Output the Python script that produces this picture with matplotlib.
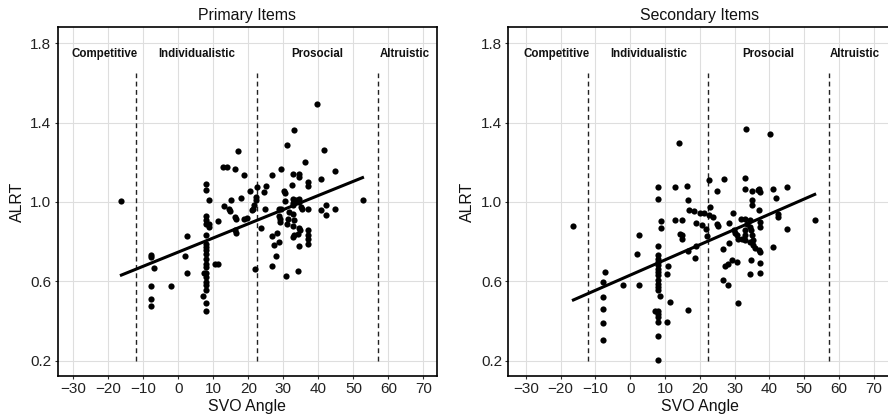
import matplotlib
matplotlib.use("Agg")
import matplotlib.pyplot as plt
import numpy as np

plt.rcParams['font.family'] = ['Liberation Sans', 'DejaVu Sans']

# SVO angle / ALRT pairs, primary items
primary_svo = [-16.3, -7.9, -7.9, -7.1, -7.9, -7.9, -7.9, -2.1, 2.5, 1.8, 2.5,
               7.8, 7.8, 8.6, 7.8, 7.8, 7.8, 8.8, 8.8, 7.8, 7.8, 7.8, 7.8, 7.8, 7.8, 7.8, 7.8,
               7.3, 8.0, 7.8, 7.8, 7.8, 7.8, 6.9, 7.8, 7.8,
               10.5, 11.3, 11.3, 12.9, 12.8, 13.9, 14.5, 14.7, 15.1, 16.2, 16.5, 16.2, 16.4, 17.1,
               16.1, 18.6, 17.9, 18.6, 19.7, 20.4, 21.3, 21.1, 21.6, 22.5, 22.3, 22.3, 21.9,
               39.7, 33.1, 30.9, 41.6, 36.1, 29.3, 44.8, 26.7, 32.6, 34.5, 34.5, 36.9, 37.1,
               40.7, 32.4, 25.0, 24.5, 30.2, 30.5, 32.6, 32.6, 33.5, 34.5, 34.5, 30.4, 52.6,
               24.8, 28.6, 29.3, 32.6, 34.9, 35.4, 37.1, 40.7, 42.3, 42.1, 44.8, 31.6, 32.6,
               31.4, 33.1, 28.6, 23.5, 26.7, 28.3, 27.3, 28.8, 27.8, 26.7, 30.7, 34.2,
               29.0, 29.0, 31.1, 32.6, 32.8, 33.1, 34.1, 34.5, 34.8, 34.5, 36.9, 36.9, 36.9, 36.9]
primary_alrt = [1.006, 0.735, 0.725, 0.669, 0.576, 0.512, 0.476, 0.579, 0.829, 0.728, 0.643,
                1.092, 1.062, 1.008, 0.927, 0.911, 0.891, 0.891, 0.874, 0.832, 0.790, 0.773, 0.756,
                0.739, 0.714, 0.689, 0.672, 0.642, 0.642, 0.621, 0.596, 0.580, 0.558, 0.528, 0.492, 0.449,
                0.685, 0.685, 0.904, 0.980, 1.174, 1.174, 0.966, 0.954, 1.012, 0.924, 0.914, 0.857, 0.843,
                1.257, 1.164, 1.136, 1.020, 0.914, 0.920, 1.055, 0.966, 0.958, 0.983, 1.075, 1.025, 1.008, 0.664,
                1.495, 1.361, 1.285, 1.260, 1.203, 1.164, 1.158, 1.134, 1.139, 1.143, 1.126, 1.100, 1.080,
                1.117, 1.087, 1.080, 1.050, 1.053, 1.045, 1.013, 0.996, 1.008, 1.017, 1.000, 1.005, 1.008,
                0.963, 0.963, 0.963, 0.983, 0.974, 0.966, 0.963, 0.958, 0.983, 0.932, 0.963, 0.949, 0.941,
                0.916, 0.907, 0.927, 0.870, 0.828, 0.845, 0.785, 0.798, 0.727, 0.675, 0.625, 0.652,
                0.912, 0.899, 0.891, 0.877, 0.823, 0.832, 0.840, 0.870, 0.857, 0.780, 0.857, 0.832, 0.811, 0.790]

# SVO angle / ALRT pairs, secondary items
secondary_svo = [-16.3, -7.2, -7.9, -7.9, -7.9, -7.9, -7.9, -2.0, 2.6, 1.9, 2.6,
                 7.9, 7.9, 8.9, 8.9, 7.9, 7.9, 7.9, 7.9, 7.9, 7.9, 7.9, 7.9, 7.9, 7.9, 7.9, 7.9,
                 8.7, 7.0, 7.9, 7.9, 7.9, 7.9, 7.9, 7.9,
                 11.0, 10.5, 11.5, 10.5, 13.0, 14.0, 13.0, 14.4, 16.3, 16.6, 16.8, 18.2, 20.1, 21.1,
                 15.0, 18.9, 20.6, 21.8, 22.0, 14.8, 15.0, 16.6, 18.5, 18.9, 16.6,
                 22.7, 27.0, 32.9, 24.9, 33.3, 40.2, 32.9, 35.0, 36.7, 37.1, 37.4, 41.0, 45.0,
                 42.0, 35.0, 35.0, 37.1, 22.7, 23.7, 23.0, 24.9, 25.2, 28.4, 29.5, 53.0,
                 31.9, 32.9, 34.5, 34.5, 33.5, 30.2, 29.7, 30.7, 31.1, 32.1, 33.0, 33.0, 33.0,
                 34.8, 35.0, 35.4, 37.4, 37.4, 42.6, 42.6, 45.0,
                 26.8, 28.4, 28.2, 27.3, 29.2, 30.7, 26.8, 28.1, 30.9, 34.5, 35.4, 35.9, 36.9,
                 37.4, 34.8, 37.4, 34.5, 37.4, 41.0]
secondary_alrt = [0.881, 0.646, 0.596, 0.520, 0.461, 0.389, 0.305, 0.584, 0.583, 0.739, 0.835,
                  1.076, 1.014, 0.903, 0.869, 0.778, 0.731, 0.714, 0.697, 0.680, 0.664, 0.646, 0.630,
                  0.608, 0.588, 0.571, 0.554, 0.524, 0.450, 0.450, 0.436, 0.419, 0.394, 0.327, 0.204,
                  0.677, 0.638, 0.498, 0.397, 1.076, 1.296, 0.908, 0.840, 1.079, 1.012, 0.962, 0.955,
                  0.946, 0.946, 0.911, 0.896, 0.886, 0.865, 0.827, 0.832, 0.815, 0.753, 0.719, 0.776, 0.456,
                  1.113, 1.118, 1.121, 1.054, 1.367, 1.342, 1.068, 1.056, 1.059, 1.068, 1.051, 1.063, 1.076,
                  1.020, 1.009, 0.983, 0.962, 0.933, 0.924, 0.975, 0.891, 0.877, 0.896, 0.946, 0.908,
                  0.916, 0.913, 0.908, 0.874, 0.891, 0.845, 0.857, 0.832, 0.812, 0.815, 0.857, 0.832, 0.807,
                  0.857, 0.832, 0.807, 0.874, 0.899, 0.924, 0.938, 0.862,
                  0.765, 0.793, 0.689, 0.675, 0.706, 0.697, 0.608, 0.583, 0.492, 0.798, 0.781, 0.770, 0.756,
                  0.747, 0.706, 0.692, 0.638, 0.641, 0.773]

# SVO category boundaries and labels
boundaries = [-12.04, 22.45, 57.15]
category_names = ['Competitive', 'Individualistic', 'Prosocial', 'Altruistic']
category_x = [-21.0, 5.2, 39.8, 64.6]

x_ticks = [-30, -20, -10, 0, 10, 20, 30, 40, 50, 60, 70]
y_ticks = [0.2, 0.6, 1.0, 1.4, 1.8]

W, H = 888, 419


def painel(rect, xlim, svo, alrt, titulo):
    """
        Scatter de ALRT por angulo SVO com reta de regressao
    """
    ax = fig.add_axes(rect)
    svo = np.asarray(svo)
    alrt = np.asarray(alrt)
    # Grade clara atras de tudo
    ax.set_axisbelow(True)
    ax.grid(True, color='#dedede', lw=0.8)
    # Fronteiras das categorias
    ax.vlines(boundaries, 0.2, 1.65, colors='#222222', lw=1.0, linestyles=(0, (3.5, 2.5)))
    for nome, xc in zip(category_names, category_x):
        ax.text(xc, 1.745, nome, ha='center', va='center', fontsize=8.3,
                fontweight='bold', color='#111111')
    ax.scatter(svo, alrt, s=20, color='black', linewidths=0, zorder=3)
    # Reta ajustada por minimos quadrados
    b, a = np.polyfit(svo, alrt, 1)
    xs = np.array([svo.min(), svo.max()])
    ax.plot(xs, a + b * xs, color='black', lw=2.2, zorder=4)
    ax.set_xlim(*xlim)
    ax.set_ylim(0.123, 1.882)
    ax.set_xticks(x_ticks)
    ax.set_yticks(y_ticks)
    ax.set_yticklabels([f'{v:.1f}' for v in y_ticks])
    ax.tick_params(labelsize=11, length=2.5, width=0.8, color='#333333', pad=2,
                   labelcolor='#222222')
    for sp in ax.spines.values():
        sp.set_linewidth(1.2)
        sp.set_color('black')
    ax.set_title(titulo, fontsize=11.4, pad=5, color='#111111')
    ax.set_xlabel('SVO Angle', fontsize=11.4, labelpad=2, color='#111111')
    ax.set_ylabel('ALRT', fontsize=11.4, labelpad=4, color='#111111')
    return ax


fig = plt.figure(figsize=(W / 100, H / 100), dpi=100)
painel([57.7 / W, 43 / H, 379 / W, 349 / H], (-34.5, 73.8),
       primary_svo, primary_alrt, 'Primary Items')
# o painel da direita passa um pouco da borda da figura
painel([508.3 / W, 43 / H, 383 / W, 349 / H], (-35, 75),
       secondary_svo, secondary_alrt, 'Secondary Items')
fig.savefig('out.png', dpi=100)
